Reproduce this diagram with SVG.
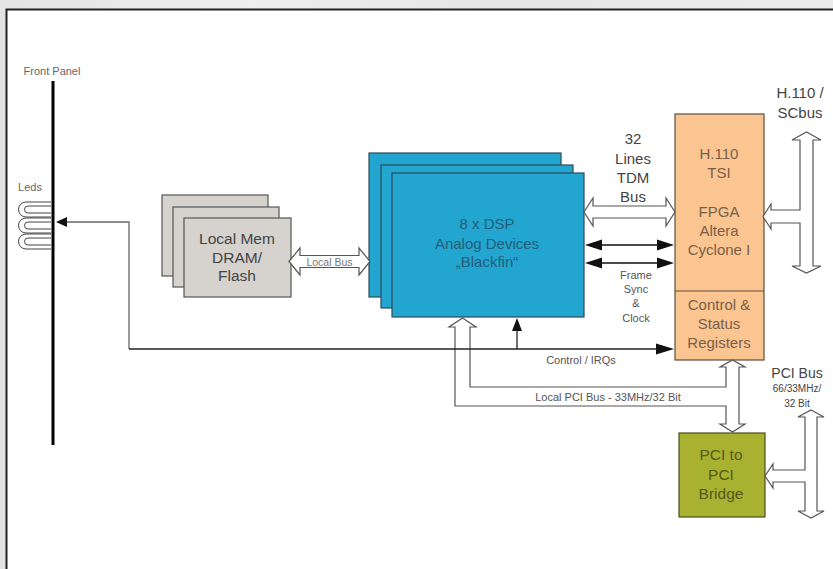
<svg xmlns="http://www.w3.org/2000/svg" width="833" height="569" viewBox="0 0 833 569">
<defs>
<linearGradient id="topbg" x1="0" y1="0" x2="1" y2="0">
<stop offset="0" stop-color="#e4e4e4"/><stop offset="0.3" stop-color="#eeeeee"/><stop offset="0.6" stop-color="#e6e6e6"/><stop offset="1" stop-color="#ececec"/>
</linearGradient>
<style>
text{font-family:"Liberation Sans",Arial,sans-serif;text-anchor:middle}
.big{font-size:15px}
.sm{font-size:11px;fill:#555}
.lbl{fill:#444}
.mem rect{fill:#d6d2ce;stroke:#555;stroke-width:1.2}
.mem text{fill:#444;font-size:15.5px}
.dsp rect{fill:#22a6d0;stroke:#2c4a5a;stroke-width:1.2}
.dsp text{fill:#245e78;font-size:15px}
.fpga rect{fill:#fbc591;stroke:#5e4e40;stroke-width:1.2}
.fpga text{fill:#7a5f48;font-size:15px}
.br rect{fill:#a9b230;stroke:#4d4d1c;stroke-width:1.2}
.br text{fill:#56571a;font-size:15.5px}
.hollow{fill:#fff;stroke:#555;stroke-width:1.2;stroke-linejoin:miter}
.blk{fill:#111;stroke:none}
</style>
</defs>
<rect x="0" y="0" width="833" height="569" fill="#e2e2e2"/>
<rect x="0" y="0" width="833" height="9" fill="url(#topbg)"/>
<rect x="6.5" y="9.5" width="840" height="570" fill="#ffffff" stroke="#222" stroke-width="2"/>

<g id="front-panel">
<text class="sm" x="52" y="75" style="fill:#666">Front Panel</text>
<line x1="53" y1="81" x2="53" y2="445" stroke="#000" stroke-width="3"/>
</g>

<g id="leds" fill="none" stroke="#444" stroke-width="1">
<text class="sm" x="30" y="191" style="fill:#666;stroke:none">Leds</text>
<path d="M51,202 H26 A7.5,7.5 0 0 0 26,217 H51 M51,206 H28 A3.5,3.5 0 0 0 28,213 H51"/>
<path d="M51,218 H26 A7.5,7.5 0 0 0 26,233 H51 M51,222 H28 A3.5,3.5 0 0 0 28,229 H51"/>
<path d="M51,234 H26 A7.5,7.5 0 0 0 26,249 H51 M51,238 H28 A3.5,3.5 0 0 0 28,245 H51"/>
</g>

<g id="local-mem" class="mem">
<rect x="162" y="195" width="106" height="81"/>
<rect x="173" y="207" width="106" height="80"/>
<rect x="184" y="218" width="107" height="79"/>
<text x="237" y="244">Local Mem</text>
<text x="237" y="263">DRAM/</text>
<text x="237" y="281">Flash</text>
</g>

<g id="dsp" class="dsp">
<rect x="369" y="153" width="192" height="144"/>
<rect x="381" y="165" width="192" height="143"/>
<rect x="392" y="173" width="192" height="144"/>
<text x="487" y="229">8 x DSP</text>
<text x="487" y="249">Analog Devices</text>
<text x="487" y="267">„Blackfin“</text>
</g>

<g id="fpga" class="fpga">
<rect x="675" y="114" width="89" height="246"/>
<line x1="675" y1="291" x2="764" y2="291" stroke="#5e4e40" stroke-width="1.2"/>
<text x="719" y="159">H.110</text>
<text x="719" y="178">TSI</text>
<text x="719" y="217">FPGA</text>
<text x="719" y="236">Altera</text>
<text x="719" y="255">Cyclone I</text>
<text x="719" y="310">Control &amp;</text>
<text x="719" y="329">Status</text>
<text x="719" y="348">Registers</text>
</g>

<g id="pci-bridge" class="br">
<rect x="679" y="433" width="86" height="84"/>
<text x="721" y="460">PCI to</text>
<text x="721" y="480">PCI</text>
<text x="721" y="499">Bridge</text>
</g>

<g id="h110-label">
<text class="big lbl" x="800" y="98">H.110 /</text>
<text class="big lbl" x="800" y="118">SCbus</text>
</g>

<g id="pci-bus-label">
<text class="lbl" x="797" y="378" style="font-size:14px">PCI Bus</text>
<text class="lbl" x="797" y="392" style="font-size:10px">66/33MHz/</text>
<text class="lbl" x="797" y="407" style="font-size:10px">32 Bit</text>
</g>

<g id="connectors">
<path class="hollow" d="M289,261.5 L300,248 L300,255.5 L359,255.5 L359,248 L370,261.5 L359,275 L359,267.5 L300,267.5 L300,275 Z"/>
<text x="329.5" y="265.5" style="font-size:10.5px;fill:#777">Local Bus</text>

<path class="hollow" d="M584,212 L593,198 L593,206 L666,206 L666,198 L675,212 L666,226 L666,218 L593,218 L593,226 Z"/>
<text class="big lbl" x="633" y="144">32</text>
<text class="big lbl" x="633" y="164">Lines</text>
<text class="big lbl" x="633" y="183">TDM</text>
<text class="big lbl" x="633" y="202">Bus</text>

<line x1="600" y1="245" x2="660" y2="245" stroke="#111" stroke-width="1.5"/>
<polygon class="blk" points="585,245 602,239.5 602,250.5"/>
<polygon class="blk" points="674,245 657,239.5 657,250.5"/>
<line x1="600" y1="263" x2="660" y2="263" stroke="#111" stroke-width="1.5"/>
<polygon class="blk" points="585,263 602,257.5 602,268.5"/>
<polygon class="blk" points="674,263 657,257.5 657,268.5"/>
<text class="sm" x="636" y="279">Frame</text>
<text class="sm" x="636" y="293">Sync</text>
<text class="sm" x="636" y="307">&amp;</text>
<text class="sm" x="636" y="322">Clock</text>

<path class="hollow" d="M806.5,132 L821,140 L813,140 L813,266 L821,266 L806.5,273 L792,266 L800,266 L800,223 L771,223 L771,229 L763,216.5 L771,204 L771,210 L800,210 L800,140 L792,140 Z"/>

<path class="hollow" d="M811,410 L824,417 L817,417 L817,511 L824,511 L811,518 L798,511 L805,511 L805,482 L773,482 L773,488 L765,476 L773,464 L773,470 L805,470 L805,417 L798,417 Z"/>

<path class="hollow" d="M462.5,318 L476,327 L470,327 L470,387 L726,387 L726,367 L720,367 L732.5,360 L745,367 L739,367 L739,424 L745,424 L732.5,432 L720,424 L726,424 L726,406 L455,406 L455,327 L449,327 Z"/>
<text class="sm" x="608" y="401">Local PCI Bus - 33MHz/32 Bit</text>

<polyline points="65,222 129,222 129,349" fill="none" stroke="#666" stroke-width="1.3"/>
<polygon class="blk" points="56,222 67,217 67,227"/>
<line x1="129" y1="349" x2="660" y2="349" stroke="#222" stroke-width="1.3"/>
<polygon class="blk" points="674,349 656,343.5 656,354.5"/>
<line x1="517" y1="349" x2="517" y2="328" stroke="#222" stroke-width="1.3"/>
<polygon class="blk" points="517,318 512,331 522,331"/>
<text class="sm" x="581" y="364">Control / IRQs</text>
</g>
</svg>
